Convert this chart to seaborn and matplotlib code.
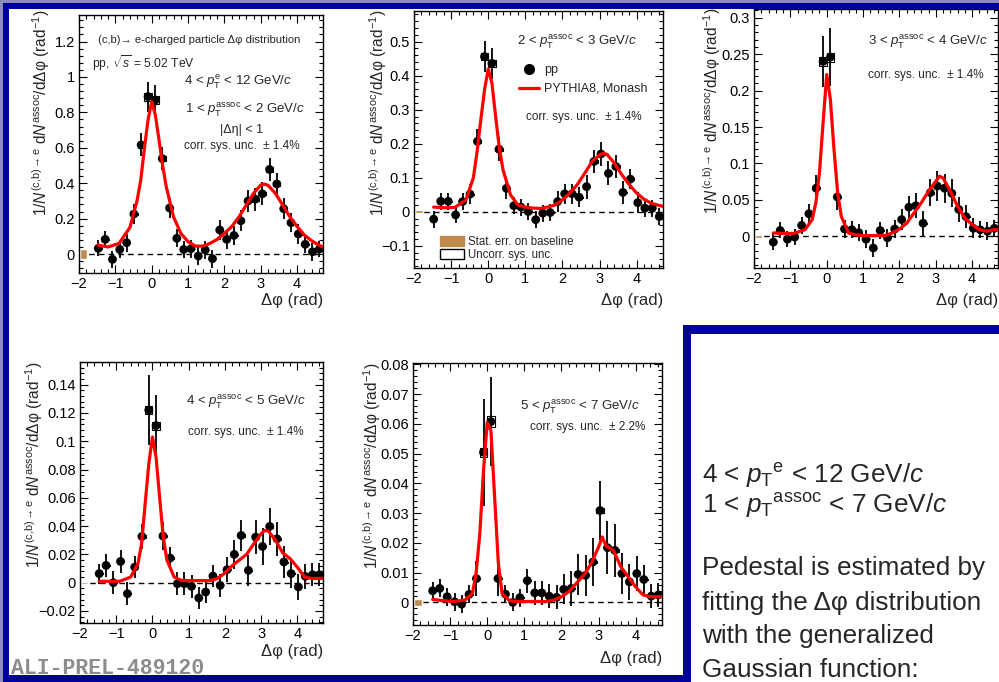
import matplotlib
matplotlib.use("Agg")
import matplotlib.pyplot as plt
import numpy as np
import pandas as pd
import seaborn as sns
from matplotlib.patches import Rectangle, Patch
from matplotlib.lines import Line2D
from matplotlib.ticker import MultipleLocator, AutoMinorLocator, FuncFormatter

W, H, DPI = 999, 682, 100

# ---- data -------------------------------------------------------------
dphi = [-1.47, -1.28, -1.08, -0.88, -0.69, -0.49, -0.29, -0.10,
        0.10, 0.29, 0.49, 0.69, 0.88, 1.08, 1.28, 1.47,
        1.67, 1.87, 2.06, 2.26, 2.45, 2.65, 2.85, 3.04,
        3.24, 3.44, 3.63, 3.83, 4.03, 4.22, 4.42, 4.61]

curve_dphi = [-1.47, -1.2, -0.9, -0.6, -0.4, -0.3, -0.2, -0.1, 0.0, 0.1,
              0.2, 0.3, 0.4, 0.6, 0.8, 1.0, 1.2, 1.4, 1.6, 1.8,
              2.0, 2.2, 2.4, 2.6, 2.8, 3.0, 3.1, 3.2, 3.4, 3.6,
              3.8, 4.0, 4.2, 4.4, 4.6, 4.71]

# 1 < pT assoc < 2 GeV/c
pp_1_2 = [0.032, 0.083, -0.030, 0.026, 0.064, 0.226, 0.616, 0.889,
          0.870, 0.539, 0.260, 0.089, 0.026, 0.030, -0.011, 0.023,
          -0.026, 0.136, 0.083, 0.105, 0.188, 0.300, 0.310, 0.340,
          0.478, 0.396, 0.256, 0.177, 0.113, 0.055, 0.013, 0.028]
err_1_2 = [0.045, 0.05, 0.05, 0.05, 0.05, 0.055, 0.065, 0.085,
           0.085, 0.065, 0.055, 0.05, 0.05, 0.05, 0.05, 0.05,
           0.05, 0.055, 0.055, 0.055, 0.06, 0.06, 0.065, 0.065,
           0.065, 0.06, 0.06, 0.055, 0.055, 0.05, 0.05, 0.045]
mc_1_2 = [0.05, 0.04, 0.06, 0.15, 0.305, 0.42, 0.60, 0.76, 0.86, 0.785,
          0.645, 0.50, 0.38, 0.21, 0.117, 0.07, 0.045, 0.045, 0.06, 0.083,
          0.117, 0.155, 0.21, 0.277, 0.343, 0.39, 0.395, 0.388, 0.343, 0.277,
          0.21, 0.155, 0.107, 0.075, 0.05, 0.04]

# 2 < pT assoc < 3 GeV/c
pp_2_3 = [-0.0215, 0.031, 0.031, -0.009, 0.030, 0.052, 0.207, 0.456,
          0.436, 0.184, 0.069, 0.018, 0.014, 0.001, -0.023, -0.004,
          -0.002, 0.030, 0.053, 0.053, 0.043, 0.074, 0.148, 0.170,
          0.113, 0.133, 0.057, 0.096, 0.027, 0.011, 0.011, -0.014]
err_2_3 = [0.025, 0.025, 0.025, 0.025, 0.025, 0.03, 0.035, 0.045,
           0.045, 0.035, 0.03, 0.025, 0.025, 0.025, 0.025, 0.025,
           0.025, 0.03, 0.03, 0.03, 0.03, 0.035, 0.035, 0.035,
           0.035, 0.035, 0.035, 0.03, 0.03, 0.025, 0.025, 0.025]
mc_2_3 = [0.014, 0.012, 0.013, 0.035, 0.10, 0.177, 0.27, 0.358, 0.42, 0.378,
          0.28, 0.187, 0.123, 0.05, 0.02, 0.014, 0.011, 0.01, 0.014, 0.02,
          0.035, 0.055, 0.08, 0.113, 0.148, 0.167, 0.172, 0.169, 0.143, 0.109,
          0.08, 0.055, 0.037, 0.025, 0.019, 0.016]

# 3 < pT assoc < 4 GeV/c
pp_3_4 = [-0.008, 0.008, -0.004, -0.001, 0.015, 0.031, 0.066, 0.240,
          0.246, 0.054, 0.010, 0.009, 0.005, -0.004, -0.016, 0.008,
          -0.002, 0.010, 0.023, 0.040, 0.042, 0.018, 0.060, 0.069,
          0.066, 0.059, 0.037, 0.027, 0.011, 0.009, 0.007, 0.011]
err_3_4 = [0.011, 0.011, 0.011, 0.011, 0.012, 0.014, 0.018, 0.035,
           0.04, 0.018, 0.013, 0.012, 0.012, 0.012, 0.012, 0.012,
           0.012, 0.013, 0.014, 0.016, 0.017, 0.017, 0.018, 0.02,
           0.02, 0.019, 0.017, 0.016, 0.014, 0.012, 0.012, 0.011]
mc_3_4 = [0.0046, 0.004, 0.004, 0.009, 0.023, 0.046, 0.087, 0.156, 0.222, 0.188,
          0.119, 0.06, 0.0275, 0.0046, 0.002, 0.001, 0.001, 0.001, 0.001, 0.0046,
          0.010, 0.018, 0.032, 0.046, 0.062, 0.0756, 0.0825, 0.080, 0.062, 0.041,
          0.025, 0.016, 0.009, 0.007, 0.009, 0.009]

# 4 < pT assoc < 5 GeV/c
pp_4_5 = [0.0064, 0.0122, 0.0, 0.015, -0.0078, 0.011, 0.0327, 0.122,
          0.111, 0.033, 0.0174, -0.0007, -0.0007, -0.0026, -0.0108, -0.0066,
          0.0047, -0.0019, 0.0092, 0.020, 0.0334, 0.0087, 0.0322, 0.0256,
          0.0398, 0.031, 0.0146, 0.0064, -0.003, 0.0045, 0.0056, 0.0056]
err_4_5 = [0.007, 0.008, 0.008, 0.008, 0.008, 0.008, 0.009, 0.025,
           0.022, 0.01, 0.008, 0.008, 0.008, 0.008, 0.008, 0.008,
           0.008, 0.008, 0.009, 0.01, 0.011, 0.011, 0.012, 0.013,
           0.013, 0.012, 0.011, 0.01, 0.009, 0.009, 0.008, 0.008]
mc_4_5 = [0.001, 0.001, 0.001, 0.004, 0.0134, 0.0275, 0.056, 0.084, 0.103, 0.0887,
          0.060, 0.032, 0.016, 0.004, 0.0016, 0.0015, 0.0015, 0.0015, 0.0015, 0.003,
          0.0068, 0.012, 0.016, 0.020, 0.0275, 0.0346, 0.037, 0.0365, 0.030, 0.021,
          0.017, 0.011, 0.004, 0.003, 0.003, 0.003]

# 5 < pT assoc < 7 GeV/c
pp_5_7 = [0.0039, 0.0047, 0.0019, 0.0002, -0.0006, 0.0027, 0.008, 0.0505,
          0.0608, 0.008, 0.0028, 0.0, 0.0016, 0.0073, 0.0032, 0.0032,
          0.0021, 0.0017, 0.0044, 0.0047, 0.0094, 0.0091, 0.0136, 0.0309,
          0.0184, 0.0175, 0.0097, 0.0069, 0.0097, 0.0077, 0.0021, 0.0025]
err_5_7 = [0.003, 0.003, 0.003, 0.003, 0.003, 0.003, 0.006, 0.018,
           0.015, 0.006, 0.003, 0.003, 0.003, 0.004, 0.004, 0.004,
           0.004, 0.004, 0.005, 0.006, 0.007, 0.007, 0.008, 0.01,
           0.009, 0.009, 0.007, 0.006, 0.006, 0.005, 0.004, 0.004]
mc_5_7 = [0.001, 0.0006, 0.0003, 0.0008, 0.003, 0.0097, 0.023, 0.0443, 0.0605, 0.0577,
          0.0354, 0.013, 0.003, 0.0006, 0.0003, 0.0003, 0.0003, 0.0003, 0.0003, 0.0008,
          0.0019, 0.0036, 0.0064, 0.0091, 0.013, 0.0186, 0.022, 0.019, 0.0175, 0.012,
          0.0086, 0.0052, 0.0025, 0.0019, 0.0019, 0.0019]

# statistical error on the subtracted baseline, relative uncorrelated sys. unc.
baseline_err = [0.03, 0.004, 0.002, 0.0008, 0.0011]
uncorr_sys = [0.025, 0.025, 0.025, 0.025, 0.03]
assoc_bins = ["1 < $p_{\\mathrm{T}}^{\\mathrm{assoc}}$ < 2 GeV/$c$",
              "2 < $p_{\\mathrm{T}}^{\\mathrm{assoc}}$ < 3 GeV/$c$",
              "3 < $p_{\\mathrm{T}}^{\\mathrm{assoc}}$ < 4 GeV/$c$",
              "4 < $p_{\\mathrm{T}}^{\\mathrm{assoc}}$ < 5 GeV/$c$",
              "5 < $p_{\\mathrm{T}}^{\\mathrm{assoc}}$ < 7 GeV/$c$"]
corr_sys = ["1.4%", "1.4%", "1.4%", "1.4%", "2.2%"]

# ---- style ------------------------------------------------------------
sns.set_theme(style="ticks")
plt.rcParams["font.family"] = ["Liberation Sans", "DejaVu Sans"]
plt.rcParams["mathtext.fontset"] = "custom"
plt.rcParams["mathtext.rm"] = "Liberation Sans"
plt.rcParams["mathtext.it"] = "Liberation Sans:italic"
plt.rcParams["mathtext.bf"] = "Liberation Sans:bold"
plt.rcParams["mathtext.sf"] = "Liberation Sans"
plt.rcParams["axes.unicode_minus"] = True

NAVY = "#00009a"
BROWN = "#bf8a4e"

fig = plt.figure(figsize=(W / DPI, H / DPI), dpi=DPI)
fig.patch.set_facecolor("white")


def fx(x):
    return x / W


def fy(y):
    return 1 - y / H


def frame_px(x0, y0, x1, y1, color, z=5):
    fig.patches.append(Rectangle((fx(x0), fy(y1)), (x1 - x0) / W, (y1 - y0) / H,
                                 transform=fig.transFigure, facecolor=color,
                                 edgecolor="none", zorder=z))


# slide frame
frame_px(0, 0, W, 8.5, NAVY)
frame_px(0, 0, 8.5, H, NAVY)
frame_px(0, 675, 691, H, NAVY)
frame_px(683, 325, 691, H, NAVY)
frame_px(683, 325, W, 334, NAVY)
frame_px(0, 0, W, 2.5, "#8c8cb4", z=6)
frame_px(0, 0, 2.5, H, "#8c8cb4", z=6)

ylab = (r"1/$N^{\mathrm{(c{,}b){\rightarrow}e}}$ d$N^{\mathrm{assoc}}$"
        r"/dΔφ (rad$^{-1}$)")
fmt = FuncFormatter(lambda v, p: f"{v:g}".replace("-", "\u2212"))

series = [(pp_1_2, err_1_2, mc_1_2), (pp_2_3, err_2_3, mc_2_3),
          (pp_3_4, err_3_4, mc_3_4), (pp_4_5, err_4_5, mc_4_5),
          (pp_5_7, err_5_7, mc_5_7)]
layout = [
    dict(rect=(79, 15, 323, 273), ylim=(-0.107, 1.35), major=0.2, ylo=27, ytop=5, xlo=20),
    dict(rect=(414, 11, 663, 268), ylim=(-0.165, 0.59), major=0.1, ylo=25, ytop=1, xlo=25),
    dict(rect=(754, 9, 998, 268), ylim=(-0.0435, 0.312), major=0.05, ylo=31, ytop=1, xlo=25),
    dict(rect=(80, 362, 323, 623), ylim=(-0.0285, 0.156), major=0.02, ylo=35, ytop=0, xlo=21),
    dict(rect=(413, 363, 662, 625), ylim=(-0.0076, 0.0805), major=0.01, ylo=30, ytop=0, xlo=26),
]

axes = []
for i, ((vals, errs, mc), lay) in enumerate(zip(series, layout)):
    l, t, r, b = lay["rect"]
    wpx, hpx = r - l, b - t
    ax = fig.add_axes([fx(l), fy(b), wpx / W, hpx / H])
    axes.append(ax)
    df = pd.DataFrame({"dphi": dphi, "y": vals, "err": errs})
    dmc = pd.DataFrame({"dphi": curve_dphi, "y": mc})

    ax.axhline(0, color="black", lw=1.0, ls=(0, (4, 3)), zorder=1)
    e0 = baseline_err[i]
    ax.bar([-1.87], [2 * e0], bottom=[-e0], width=0.2, color=BROWN, zorder=2)

    sys = np.abs(df["y"].to_numpy()) * uncorr_sys[i]
    ax.bar(df["dphi"], 2 * sys, bottom=df["y"] - sys, width=0.2, fill=False,
           edgecolor="black", lw=0.8, zorder=3)
    ax.errorbar(df["dphi"], df["y"], yerr=df["err"], fmt="none", ecolor="black",
                elinewidth=1.3, capsize=0, zorder=4)
    sns.scatterplot(data=df, x="dphi", y="y", ax=ax, color="black", s=40,
                    edgecolor="none", zorder=5, legend=False)
    sns.lineplot(data=dmc, x="dphi", y="y", ax=ax, color="#ff0000", lw=2.3,
                 estimator=None, zorder=6, legend=False)

    ax.set_xlim(-2, 4.71)
    ax.set_ylim(*lay["ylim"])
    ax.xaxis.set_major_locator(MultipleLocator(1))
    ax.xaxis.set_minor_locator(AutoMinorLocator(5))
    ax.yaxis.set_major_locator(MultipleLocator(lay["major"]))
    ax.yaxis.set_minor_locator(AutoMinorLocator(5))
    ax.xaxis.set_major_formatter(fmt)
    ax.yaxis.set_major_formatter(fmt)
    ax.tick_params(which="both", direction="in", top=True, right=True,
                   width=0.8, colors="black", labelsize=10.5, pad=3)
    ax.tick_params(which="major", length=6)
    ax.tick_params(which="minor", length=3)
    for s in ax.spines.values():
        s.set_color("black")
        s.set_linewidth(1.0)
    ax.set_facecolor("white")

    ax.set_xlabel("Δφ (rad)", fontsize=12, loc="right")
    ax.xaxis.set_label_coords(1.0, -lay["xlo"] / hpx)
    ax.set_ylabel(ylab, fontsize=11.2, loc="top")
    ax.yaxis.set_label_coords(-lay["ylo"] / wpx, 1 + lay["ytop"] / hpx)

# ---- panel annotations -----------------------------------------------
fs_small = 8.5
fs_mid = 9.5
fig.text(fx(98), fy(40), "(c,b)→ e-charged particle Δφ distribution", fontsize=8.1,
         ha="left", va="center")
fig.text(fx(92), fy(63), r"pp, $\sqrt{s}$ = 5.02 TeV", fontsize=8.7, ha="left", va="center")
fig.text(fx(238), fy(82), r"4 < $p_{\mathrm{T}}^{\mathrm{e}}$ < 12 GeV/$c$", fontsize=fs_mid,
         ha="center", va="center")
fig.text(fx(245), fy(110), assoc_bins[0], fontsize=fs_mid, ha="center", va="center")
fig.text(fx(242), fy(130), "|Δη| < 1", fontsize=9, ha="center", va="center")

corr_pos = [(242, 146), (584, 117), (926, 75), (246, 432), (588, 427)]
bin_pos = [None, (577, 42), (928, 42), (246, 402), (580, 407)]
for i in range(5):
    cx, cy = corr_pos[i]
    fig.text(fx(cx), fy(cy), f"corr. sys. unc.  ± {corr_sys[i]}", fontsize=fs_small,
             ha="center", va="center")
    if bin_pos[i] is not None:
        bx, by = bin_pos[i]
        fig.text(fx(bx), fy(by), assoc_bins[i], fontsize=fs_mid, ha="center", va="center")

ax2 = axes[1]
leg1 = ax2.legend(handles=[Line2D([], [], marker="o", ls="none", color="black", ms=7),
                           Line2D([], [], color="#ff0000", lw=2.3)],
                  labels=["pp", "PYTHIA8, Monash"], loc="upper left",
                  bbox_to_anchor=(fx(519), fy(64)), bbox_transform=fig.transFigure,
                  frameon=False, fontsize=9, handlelength=1.6, handletextpad=0.4,
                  labelspacing=0.55, borderpad=0, borderaxespad=0)
ax2.add_artist(leg1)
ax2.legend(handles=[Patch(facecolor=BROWN, edgecolor=BROWN),
                    Patch(facecolor="white", edgecolor="black", lw=1)],
           labels=["Stat. err. on baseline", "Uncorr. sys. unc."], loc="upper left",
           bbox_to_anchor=(fx(440), fy(236)), bbox_transform=fig.transFigure,
           frameon=False, fontsize=8.3, handlelength=2.1, handleheight=0.9,
           handletextpad=0.3, labelspacing=0.1, borderpad=0, borderaxespad=0)

# ---- side note ----------------------------------------------------------
note_fs = 18.8
fig.text(fx(702), fy(483), r"4 < $p_{\mathrm{T}}{}^{\mathrm{e}}$ < 12 GeV/$c$",
         fontsize=note_fs, ha="left", va="baseline")
fig.text(fx(702), fy(513), r"1 < $p_{\mathrm{T}}{}^{\mathrm{assoc}}$ < 7 GeV/$c$",
         fontsize=note_fs, ha="left", va="baseline")
for line, yb in zip(["Pedestal is estimated by", "fitting the Δφ distribution",
                     "with the generalized", "Gaussian function:"],
                    [575, 610, 643, 677]):
    fig.text(fx(702), fy(yb), line, fontsize=note_fs, ha="left", va="baseline")

fig.text(fx(11), fy(674), "ALI-PREL-489120", family="Liberation Mono", weight="bold",
         fontsize=15.5, color="#8c8c8c", ha="left", va="baseline")

fig.savefig("out.png", dpi=DPI)
